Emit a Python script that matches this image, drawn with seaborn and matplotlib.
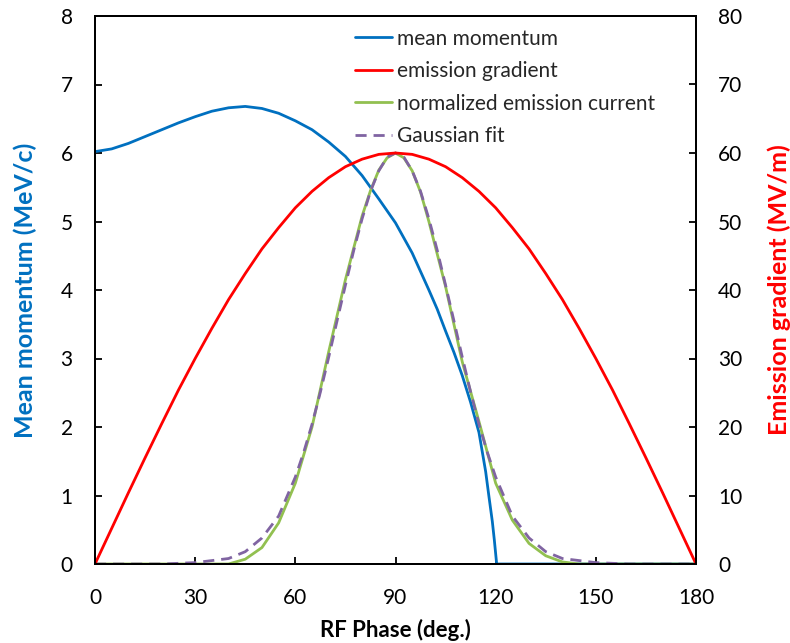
import numpy as np
import pandas as pd
import matplotlib
matplotlib.use("Agg")
import matplotlib.pyplot as plt
import seaborn as sns
from matplotlib.lines import Line2D

# ---- data ----
mom_phase = [0, 5, 10, 15, 20, 25, 30, 35, 40, 45, 50, 55, 60, 65, 70, 75, 80, 85,
             90, 95, 100, 102.5, 105, 107.5, 110, 112.5, 115, 117, 118, 119, 119.6,
             120.3, 180]
mom_value = [6.02, 6.06, 6.14, 6.24, 6.34, 6.44, 6.53, 6.61, 6.66, 6.68, 6.65, 6.58,
             6.47, 6.34, 6.16, 5.95, 5.67, 5.33, 4.98, 4.54, 4.00, 3.72, 3.40, 3.09,
             2.75, 2.36, 1.92, 1.35, 0.98, 0.62, 0.35, 0.0, 0.0]

grad_phase = [0, 5, 10, 15, 20, 25, 30, 35, 40, 45, 50, 55, 60, 65, 70, 75, 80, 85, 90,
              95, 100, 105, 110, 115, 120, 125, 130, 135, 140, 145, 150, 155, 160, 165,
              170, 175, 180]
grad_value = [0.0, 5.2, 10.4, 15.5, 20.5, 25.4, 30.0, 34.4, 38.6, 42.4, 46.0, 49.1, 52.0,
              54.4, 56.4, 58.0, 59.1, 59.8, 60.0, 59.8, 59.1, 58.0, 56.4, 54.4, 52.0,
              49.1, 46.0, 42.4, 38.6, 34.4, 30.0, 25.4, 20.5, 15.5, 10.4, 5.2, 0.0]

cur_phase = [0, 40, 45, 50, 55, 60, 65, 70, 75, 80, 82.5, 85, 87.5, 90, 92.5, 95, 97.5,
             100, 105, 110, 115, 120, 125, 130, 135, 140, 145, 180]
cur_value = [0.0, 0.0, 0.07, 0.24, 0.60, 1.18, 2.00, 3.10, 4.15, 5.08, 5.45, 5.75, 5.93,
             6.00, 5.93, 5.74, 5.43, 5.00, 4.05, 2.95, 2.08, 1.18, 0.64, 0.30, 0.12,
             0.03, 0.0, 0.0]

fit_phase = [0, 20, 25, 30, 35, 40, 45, 50, 55, 60, 62.5, 65, 67.5, 70, 72.5, 75, 77.5,
             80, 82.5, 85, 87.5, 90, 92.5, 95, 97.5, 100, 102.5, 105, 107.5, 110, 112.5,
             115, 117.5, 120, 125, 130, 135, 140, 145, 150, 155, 160, 180]
fit_value = [0.0, 0.0, 0.01, 0.02, 0.05, 0.08, 0.18, 0.38, 0.70, 1.27, 1.63, 2.04, 2.51,
             3.02, 3.55, 4.07, 4.58, 5.04, 5.44, 5.74, 5.94, 6.00, 5.94, 5.74, 5.44,
             5.04, 4.58, 4.07, 3.55, 3.02, 2.51, 2.04, 1.63, 1.27, 0.70, 0.38, 0.18,
             0.08, 0.05, 0.02, 0.01, 0.0, 0.0]

x_ticks = [0, 30, 60, 90, 120, 150, 180]
left_ticks = [0, 1, 2, 3, 4, 5, 6, 7, 8]
right_ticks = [0, 10, 20, 30, 40, 50, 60, 70, 80]

BLUE = "#0070C0"
RED = "#FF0000"
GREEN = "#92C050"
PURPLE = "#8064A2"

sns.set_style("white")
plt.rcParams["font.family"] = ["Lato", "DejaVu Sans"]

fig = plt.figure(figsize=(7.9, 6.43), dpi=100)
ax1 = fig.add_axes([95 / 790, 1 - 564 / 643, 601 / 790, 548 / 643])
ax2 = ax1.twinx()

lw = 2.0
dash = (0, (4, 2.5))
df_m = pd.DataFrame({"phase": mom_phase, "v": mom_value})
df_g = pd.DataFrame({"phase": grad_phase, "v": grad_value})
df_c = pd.DataFrame({"phase": cur_phase, "v": cur_value})
df_f = pd.DataFrame({"phase": fit_phase, "v": fit_value})

sns.lineplot(data=df_m, x="phase", y="v", ax=ax1, color=BLUE, lw=lw, sort=False)
sns.lineplot(data=df_c, x="phase", y="v", ax=ax1, color=GREEN, lw=lw, sort=False)
sns.lineplot(data=df_f, x="phase", y="v", ax=ax1, color=PURPLE, lw=lw, sort=False,
             linestyle=dash)
sns.lineplot(data=df_g, x="phase", y="v", ax=ax2, color=RED, lw=lw, sort=False)

ax1.set_xlim(0, 180)
ax1.set_ylim(0, 8)
ax2.set_ylim(0, 80)
ax1.set_xticks(x_ticks)
ax1.set_yticks(left_ticks)
ax2.set_yticks(right_ticks)
ax1.set_xticklabels([str(t) for t in x_ticks])
ax1.set_yticklabels([str(t) for t in left_ticks])
ax2.set_yticklabels([str(t) for t in right_ticks])

tick_fs = 15
ax1.tick_params(axis="x", direction="in", length=5, width=1.3, labelsize=tick_fs,
                pad=17, colors="black", top=False, bottom=True)
ax1.tick_params(axis="y", direction="in", length=5, width=1.3, labelsize=tick_fs,
                pad=16, colors="black", left=True, right=False)
ax2.tick_params(axis="y", direction="in", length=5, width=1.3, labelsize=tick_fs,
                pad=16, colors="black", right=True, left=False)

for ax in (ax1, ax2):
    for s in ax.spines.values():
        s.set_color("black")
        s.set_linewidth(1.4)
        s.set_visible(True)

ax1.set_xlabel("RF Phase (deg.)", fontsize=16, fontweight="bold", color="black",
               labelpad=8)
ax1.set_ylabel("Mean momentum (MeV/c)", fontsize=18, fontweight="bold", color=BLUE,
               labelpad=17)
ax2.set_ylabel("Emission gradient (MV/m)", fontsize=18, fontweight="bold", color=RED,
               labelpad=18)

handles = [
    Line2D([], [], color=BLUE, lw=lw),
    Line2D([], [], color=RED, lw=lw),
    Line2D([], [], color=GREEN, lw=lw),
    Line2D([], [], color=PURPLE, lw=lw, linestyle=dash),
]
labels = ["mean momentum", "emission gradient", "normalized emission current",
          "Gaussian fit"]
ax2.legend(handles, labels, loc="upper left", bbox_to_anchor=(0.4326, 0.977),
           frameon=False, fontsize=15, handlelength=1.8, handletextpad=0.2,
           labelspacing=0.6, borderaxespad=0, borderpad=0)

fig.savefig("out.png", dpi=100)
